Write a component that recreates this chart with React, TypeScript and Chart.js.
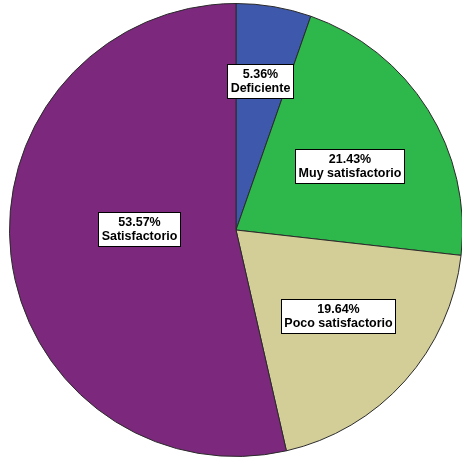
import { useEffect, useRef } from "react";
import { Chart, registerables } from "chart.js";

Chart.register(...registerables);

// Rating categories, in clockwise order from 12 o'clock
const categories = ["Deficiente", "Muy satisfactorio", "Poco satisfactorio", "Satisfactorio"];
// Respondent counts per category (n = 56)
const counts = [3, 12, 11, 30];
const sliceColors = ["#3E58AC", "#2EB84C", "#D3CE97", "#7C287D"];

// Label anchor: fraction of radius, and small angular nudge (degrees) from slice middle
const labelRadius = [0.665, 0.577, 0.59, 0.43];
const labelNudge = [-0.5, 2.8, -1.8, 6.8];

const boxLabels = {
  id: "boxLabels",
  afterDatasetsDraw(chart: any) {
    const ctx = chart.ctx as CanvasRenderingContext2D;
    const meta = chart.getDatasetMeta(0);
    const data = chart.data.datasets[0].data as number[];
    const total = data.reduce((a, b) => a + b, 0);
    ctx.save();
    ctx.font = "bold 12.5px 'Liberation Sans', Arial, sans-serif";
    ctx.textAlign = "center";
    ctx.textBaseline = "middle";
    meta.data.forEach((arc: any, i: number) => {
      const { x, y, startAngle, endAngle, outerRadius } = arc.getProps(
        ["x", "y", "startAngle", "endAngle", "outerRadius"],
        true
      );
      const mid = (startAngle + endAngle) / 2 + (labelNudge[i] * Math.PI) / 180;
      const r = outerRadius * labelRadius[i];
      const cx = x + Math.cos(mid) * r;
      const cy = y + Math.sin(mid) * r;
      const pct = ((data[i] / total) * 100).toFixed(2) + "%";
      const lines = [pct, chart.data.labels[i] as string];
      const w = Math.round(Math.max(...lines.map((l) => ctx.measureText(l).width)) + 6);
      const lh = 14;
      const h = lines.length * lh + 6;
      const bx = Math.round(cx - w / 2) + 0.5;
      const by = Math.round(cy - h / 2) + 0.5;
      ctx.fillStyle = "#ffffff";
      ctx.fillRect(bx, by, w, h);
      ctx.strokeStyle = "#000000";
      ctx.lineWidth = 1;
      ctx.strokeRect(bx, by, w, h);
      ctx.fillStyle = "#000000";
      lines.forEach((l, k) => {
        ctx.fillText(l, bx + w / 2, by + 3.5 + lh / 2 + k * lh);
      });
    });
    ctx.restore();
  },
};

export default function App() {
  const canvasRef = useRef<HTMLCanvasElement>(null);

  useEffect(() => {
    if (!canvasRef.current) return;
    const chart = new Chart(canvasRef.current, {
      type: "pie",
      data: {
        labels: categories,
        datasets: [
          {
            data: counts,
            backgroundColor: sliceColors,
            borderColor: "#2a2a2a",
            borderWidth: 1,
          },
        ],
      },
      options: {
        animation: false,
        responsive: false,
        maintainAspectRatio: false,
        layout: { padding: 0 },
        plugins: {
          legend: { display: false },
          tooltip: { enabled: false },
          title: { display: false },
        },
      },
      plugins: [boxLabels],
    });
    return () => chart.destroy();
  }, []);

  return (
    <div
      style={{
        position: "fixed",
        left: 0,
        top: 0,
        width: 462,
        height: 458,
        overflow: "hidden",
        background: "#ffffff",
      }}
    >
      <canvas
        ref={canvasRef}
        width={454}
        height={454}
        style={{ position: "absolute", left: 9, top: 3, width: 454, height: 454 }}
      />
    </div>
  );
}
